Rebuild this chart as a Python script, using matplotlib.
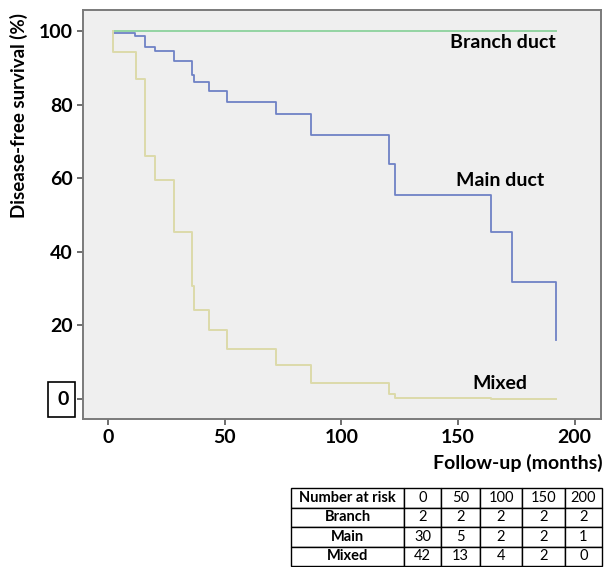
import matplotlib
matplotlib.use("Agg")
import matplotlib.pyplot as plt
from matplotlib.patches import Rectangle

plt.rcParams["font.family"] = ["Lato", "DejaVu Sans"]

# ── Kaplan-Meier curves ───────────────────────────────────────────
branch_t = [2, 192]
branch_s = [100, 100]

main_t = [2, 11.7, 16, 20, 28.1, 36, 36.7, 43.1, 51, 72.1, 87.1,
          120.3, 123.1, 164.1, 173.3, 192.1]
main_s = [99.4, 98.7, 95.7, 94.6, 91.8, 88.0, 86.1, 83.8, 80.8, 77.4, 71.7,
          64.0, 55.4, 45.3, 31.9, 16.0]

mixed_t = [2, 2, 12, 16, 20, 28.1, 36, 36.7, 43.1, 51, 72.1, 87.1,
           120.3, 123.1, 164.1, 192]
mixed_s = [100, 94.2, 86.9, 66.1, 59.5, 45.5, 30.7, 24.2, 18.8, 13.7, 9.3, 4.5,
           1.4, 0.4, 0, 0]

x_ticks = [0, 50, 100, 150, 200]
y_ticks = [0, 20, 40, 60, 80, 100]

# ── Number at risk table ──────────────────────────────────────────
risk_header = ["Number at risk", "0", "50", "100", "150", "200"]
risk_groups = ["Branch", "Main", "Mixed"]
risk_branch = [2, 2, 2, 2, 2]
risk_main   = [30, 5, 2, 2, 1]
risk_mixed  = [42, 13, 4, 2, 0]

W, H = 604, 567
fig = plt.figure(figsize=(W / 100, H / 100), dpi=100)

ax = fig.add_axes([83 / W, 1 - 419 / H, 518 / W, 409 / H])
ax.set_facecolor("#efefef")

ax.step(branch_t, branch_s, where="post", color="#93d4a2", lw=1.4)
ax.step(main_t, main_s, where="post", color="#6f82c6", lw=1.3)
ax.step(mixed_t, mixed_s, where="post", color="#dcdaaa", lw=1.4)

ax.set_xlim(-10.7, 211.3)
ax.set_ylim(-5.4, 105.7)
ax.set_xticks(x_ticks)
ax.set_yticks(y_ticks)
# the zero label is drawn separately, inside its box
ax.set_yticklabels([""] + [str(v) for v in y_ticks[1:]])

for s in ax.spines.values():
    s.set_color("#7a7a7a")
    s.set_linewidth(1.4)
ax.tick_params(direction="out", length=4.5, width=1.2, color="#555555",
               labelsize=14, pad=3)
for lab in ax.get_xticklabels() + ax.get_yticklabels():
    lab.set_fontweight("bold")

# boxed zero on the y axis (the box is taller than it is wide)
fig.patches.append(Rectangle((48 / W, 1 - 417 / H), 27 / W, 35 / H,
                             transform=fig.transFigure, fc="white",
                             ec="black", lw=1.2))
fig.text(63 / W, 1 - 399.5 / H, str(y_ticks[0]), fontsize=14, fontweight="bold",
         ha="center", va="center")

ax.set_ylabel("Disease-free survival (%)", fontsize=13.5, fontweight="bold")
ax.yaxis.set_label_coords(-0.106, 0.743)
fig.text(603 / W, 1 - 463 / H, "Follow-up (months)", fontsize=14,
         fontweight="bold", ha="right", va="center")

ax.text(192, 96.8, "Branch duct", fontsize=14, fontweight="bold", ha="right", va="center")
ax.text(168, 59.5, "Main duct", fontsize=14, fontweight="bold", ha="center", va="center")
ax.text(168, 4.2, "Mixed", fontsize=14, fontweight="bold", ha="center", va="center")

# ── table ─────────────────────────────────────────────────────────
tax = fig.add_axes([291 / W, 1 - 566 / H, 311 / W, 78 / H])
tax.axis("off")
cells = [risk_header]
for name, vals in zip(risk_groups, [risk_branch, risk_main, risk_mixed]):
    cells.append([name] + [str(v) for v in vals])
col_w = [113, 37, 39, 42, 43, 37]
tbl = tax.table(cellText=cells, cellLoc="center", bbox=[0, 0, 1, 1],
                colWidths=[c / sum(col_w) for c in col_w])
tbl.auto_set_font_size(False)
for (r, c), cell in tbl.get_celld().items():
    cell.set_linewidth(1.0)
    cell.set_edgecolor("black")
    txt = cell.get_text()
    txt.set_fontsize(10.5)
    if c == 0:
        txt.set_fontweight("bold")

fig.savefig("out.png", dpi=100)
